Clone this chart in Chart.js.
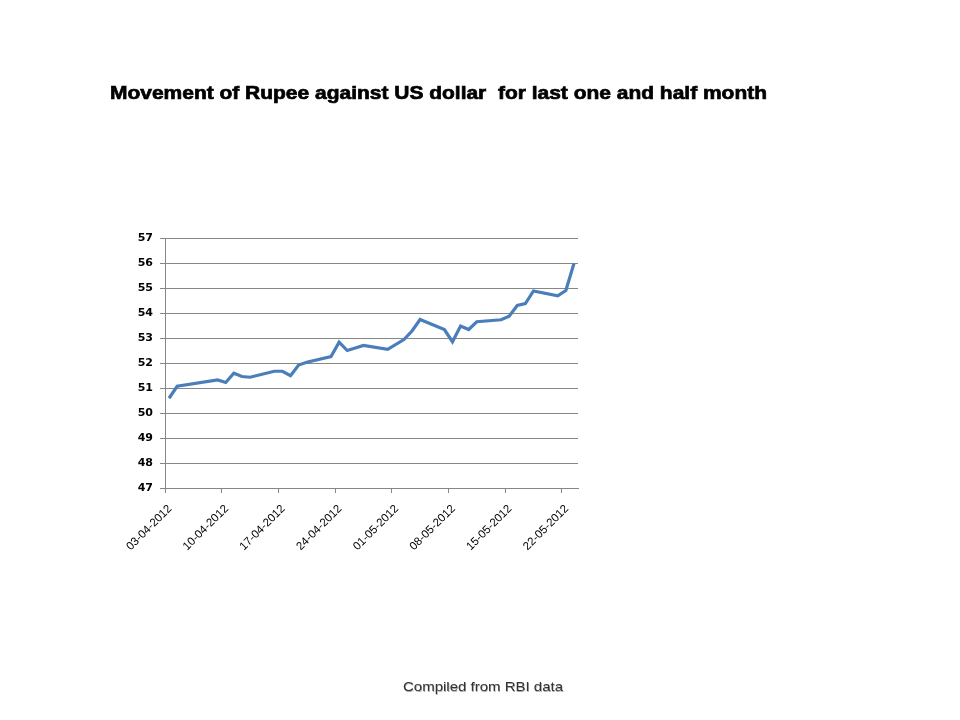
<!DOCTYPE html>
<html>
<head>
<meta charset="utf-8">
<script src="https://cdn.jsdelivr.net/npm/chart.js@4/dist/chart.umd.min.js"></script>
<style>
  html, body { margin: 0; padding: 0; background: #fff; }
  #wrap { position: relative; width: 960px; height: 720px; overflow: hidden; }
  #chart { position: absolute; left: 0; top: 0; }
  .txt { position: absolute; white-space: pre; transform-origin: 0 0; }
  #title { left: 110px; top: 82px; font: bold 19px "Liberation Sans", Arial, sans-serif; color: #000;
           -webkit-text-stroke: 0.7px #000; }
  #note { left: 403px; top: 679px; font: 13px "Liberation Sans", Arial, sans-serif; color: #333;
          text-shadow: 0.5px 0.5px 0 #aaa; }
</style>
</head>
<body>
<div id="wrap">
  <canvas id="chart" width="960" height="720"></canvas>
  <div id="title" class="txt">Movement of Rupee against US dollar  for last one and half month</div>
  <div id="note" class="txt">Compiled from RBI data</div>
</div>
<script>
// RBI reference rate, rupees per US dollar
const dates = ['03-04-2012','04-04-2012','09-04-2012','10-04-2012','11-04-2012','12-04-2012','13-04-2012',
  '16-04-2012','17-04-2012','18-04-2012','19-04-2012','20-04-2012','23-04-2012','24-04-2012','25-04-2012',
  '26-04-2012','27-04-2012','30-04-2012','02-05-2012','03-05-2012','04-05-2012','07-05-2012','08-05-2012',
  '09-05-2012','10-05-2012','11-05-2012','14-05-2012','15-05-2012','16-05-2012','17-05-2012','18-05-2012',
  '21-05-2012','22-05-2012','23-05-2012'];
const rates = [50.59,51.07,51.32,51.22,51.59,51.46,51.43,
  51.67,51.67,51.49,51.92,52.03,52.26,52.83,52.50,
  52.60,52.70,52.55,52.94,53.28,53.74,53.34,52.85,
  53.48,53.34,53.65,53.73,53.87,54.30,54.38,54.88,
  54.69,54.90,55.98];
const tickDates = ['03-04-2012','10-04-2012','17-04-2012','24-04-2012','01-05-2012','08-05-2012','15-05-2012','22-05-2012'];
const axisEnd = '24-05-2012';
const yTicks = [47,48,49,50,51,52,53,54,55,56,57];

function toUTC(s) {
  const p = s.split('-');
  return Date.UTC(+p[2], +p[1] - 1, +p[0]);
}
const start = toUTC(dates[0]);
function dayIndex(s) { return Math.round((toUTC(s) - start) / 86400000); }
function dayLabel(n) {
  const d = new Date(start + n * 86400000);
  const pad = v => String(v).padStart(2, '0');
  return pad(d.getUTCDate()) + '-' + pad(d.getUTCMonth() + 1) + '-' + d.getUTCFullYear();
}

// date axis: each point sits in the middle of its day
const points = dates.map((d, i) => ({ x: dayIndex(d) + 0.5, y: rates[i] }));

const gridGray = '#878787';

new Chart(document.getElementById('chart'), {
  type: 'line',
  data: {
    datasets: [{
      label: 'Rupee',
      data: points,
      borderColor: '#4A7EBB',
      borderWidth: 3.2,
      pointRadius: 0,
      tension: 0,
      fill: false
    }]
  },
  options: {
    responsive: false,
    animation: false,
    layout: { padding: { left: 100, right: 382, top: 238, bottom: 132 } },
    plugins: { legend: { display: false }, tooltip: { enabled: false } },
    scales: {
      x: {
        type: 'linear',
        min: 0,
        max: dayIndex(axisEnd),
        afterBuildTicks: s => { s.ticks = tickDates.map(d => ({ value: dayIndex(d) })); },
        afterFit: s => { s.height = 100; },
        grid: { drawOnChartArea: false, drawTicks: true, tickLength: 5, color: gridGray },
        border: { display: true, color: gridGray, width: 1 },
        ticks: {
          minRotation: 45, maxRotation: 45, padding: 9, labelOffset: 5,
          color: '#000',
          font: { family: 'Liberation Sans', size: 11.5 },
          callback: v => dayLabel(v)
        }
      },
      y: {
        min: 47,
        max: 57,
        afterBuildTicks: s => { s.ticks = yTicks.map(v => ({ value: v })); },
        afterFit: s => { s.width = 65; },
        grid: { color: gridGray, lineWidth: 1, tickLength: 5 },
        border: { display: true, color: gridGray, width: 1 },
        ticks: {
          padding: 7,
          color: '#000',
          font: { family: 'DejaVu Sans', size: 11, weight: 'bold' }
        }
      }
    }
  }
});

// squeeze the texts to the widths they have in the picture
function fitWidth(id, w) {
  const el = document.getElementById(id);
  const k = w / el.getBoundingClientRect().width;
  el.style.transform = 'scaleX(' + k + ')';
}
fitWidth('title', 657);
fitWidth('note', 160);
</script>
</body>
</html>
